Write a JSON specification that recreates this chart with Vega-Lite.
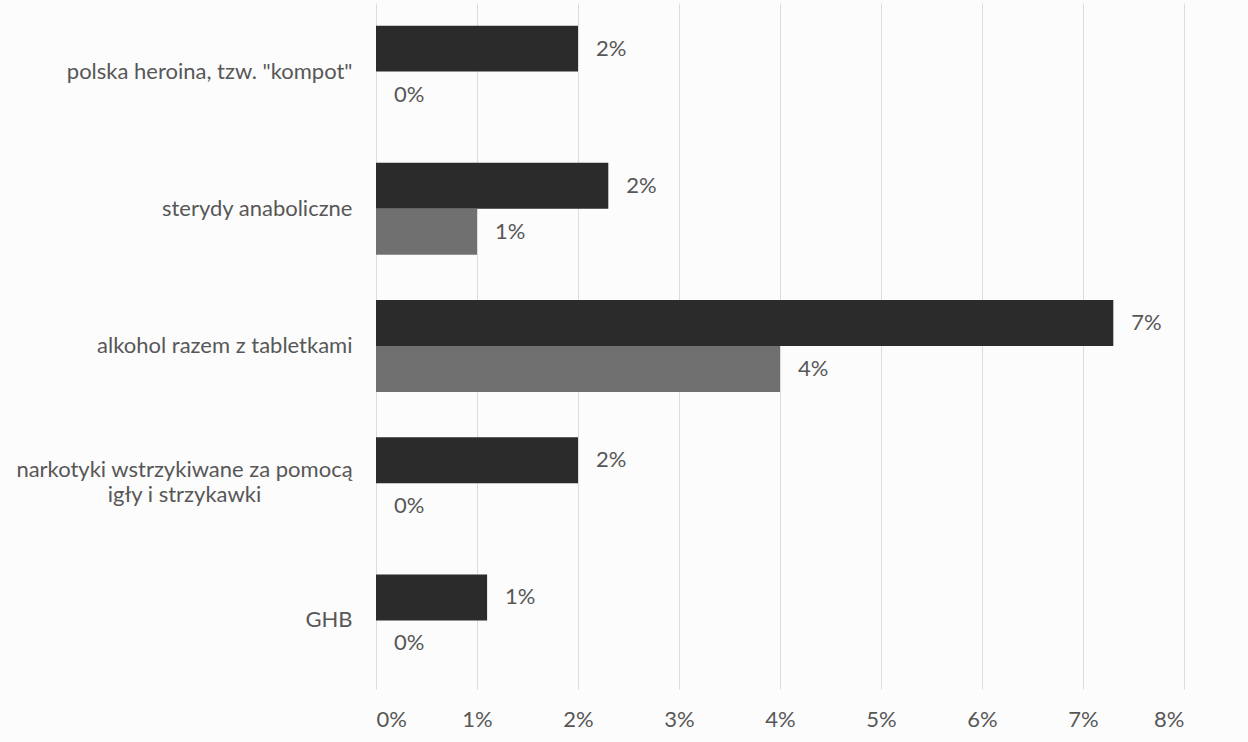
{
  "$schema": "https://vega.github.io/schema/vega-lite/v6.json",
  "width": 808,
  "height": 686,
  "autosize": {"type": "none"},
  "padding": {"left": 376, "top": 3, "right": 64, "bottom": 53},
  "background": "#fcfcfc",
  "config": {"view": {"stroke": null}, "font": "Lato"},
  "data": {
    "values": [
      {"kategoria": "polska heroina, tzw. \"kompot\"", "seria": "grupa 1", "wartosc": 0.020},
      {"kategoria": "polska heroina, tzw. \"kompot\"", "seria": "grupa 2", "wartosc": 0.0},
      {"kategoria": "sterydy anaboliczne", "seria": "grupa 1", "wartosc": 0.023},
      {"kategoria": "sterydy anaboliczne", "seria": "grupa 2", "wartosc": 0.010},
      {"kategoria": "alkohol razem z tabletkami", "seria": "grupa 1", "wartosc": 0.073},
      {"kategoria": "alkohol razem z tabletkami", "seria": "grupa 2", "wartosc": 0.040},
      {"kategoria": "narkotyki wstrzykiwane za pomocą igły i strzykawki", "seria": "grupa 1", "wartosc": 0.020},
      {"kategoria": "narkotyki wstrzykiwane za pomocą igły i strzykawki", "seria": "grupa 2", "wartosc": 0.0},
      {"kategoria": "GHB", "seria": "grupa 1", "wartosc": 0.011},
      {"kategoria": "GHB", "seria": "grupa 2", "wartosc": 0.0}
    ]
  },
  "encoding": {
    "y": {
      "field": "kategoria",
      "type": "nominal",
      "sort": ["polska heroina, tzw. \"kompot\"", "sterydy anaboliczne", "alkohol razem z tabletkami", "narkotyki wstrzykiwane za pomocą igły i strzykawki", "GHB"],
      "scale": {"paddingInner": 0.33, "paddingOuter": 0.165},
      "axis": {
        "title": null,
        "domain": false,
        "ticks": false,
        "grid": false,
        "labelFont": "Lato",
        "labelFontSize": 22,
        "labelColor": "#575757",
        "labelLimit": 500,
        "labelPadding": {"condition": {"test": "indexof(datum.value, 'narkotyki') == 0", "value": 192}, "value": 24},
        "labelAlign": {"condition": {"test": "indexof(datum.value, 'narkotyki') == 0", "value": "center"}, "value": "right"},
        "labelOffset": {"condition": {"test": "indexof(datum.value, 'narkotyki') == 0", "value": -13}, "value": 0},
        "labelLineHeight": 25,
        "labelExpr": "indexof(datum.value, 'narkotyki') == 0 ? ['narkotyki wstrzykiwane za pomocą', 'igły i strzykawki'] : datum.value"
      }
    },
    "yOffset": {"field": "seria", "type": "nominal", "sort": ["grupa 1", "grupa 2"], "scale": {"paddingInner": 0, "paddingOuter": 0}},
    "x": {
      "field": "wartosc",
      "type": "quantitative",
      "scale": {"domain": [0, 0.08], "nice": false},
      "axis": {
        "title": null,
        "format": ".0%",
        "values": [0, 0.01, 0.02, 0.03, 0.04, 0.05, 0.06, 0.07, 0.08],
        "domain": false,
        "ticks": false,
        "grid": true,
        "gridColor": "#dcdcdc",
        "gridWidth": 1,
        "labelFont": "Lato",
        "labelFontSize": 22,
        "labelColor": "#575757",
        "labelPadding": 20
      }
    }
  },
  "layer": [
    {
      "mark": {"type": "bar"},
      "encoding": {
        "color": {"field": "seria", "type": "nominal", "scale": {"domain": ["grupa 1", "grupa 2"], "range": ["#2b2b2b", "#707070"]}, "legend": null}
      }
    },
    {
      "mark": {"type": "text", "align": "left", "baseline": "middle", "dx": 18, "fontSize": 22, "font": "Lato", "color": "#575757"},
      "encoding": {
        "text": {"field": "wartosc", "type": "quantitative", "format": ".0%"}
      }
    }
  ]
}
